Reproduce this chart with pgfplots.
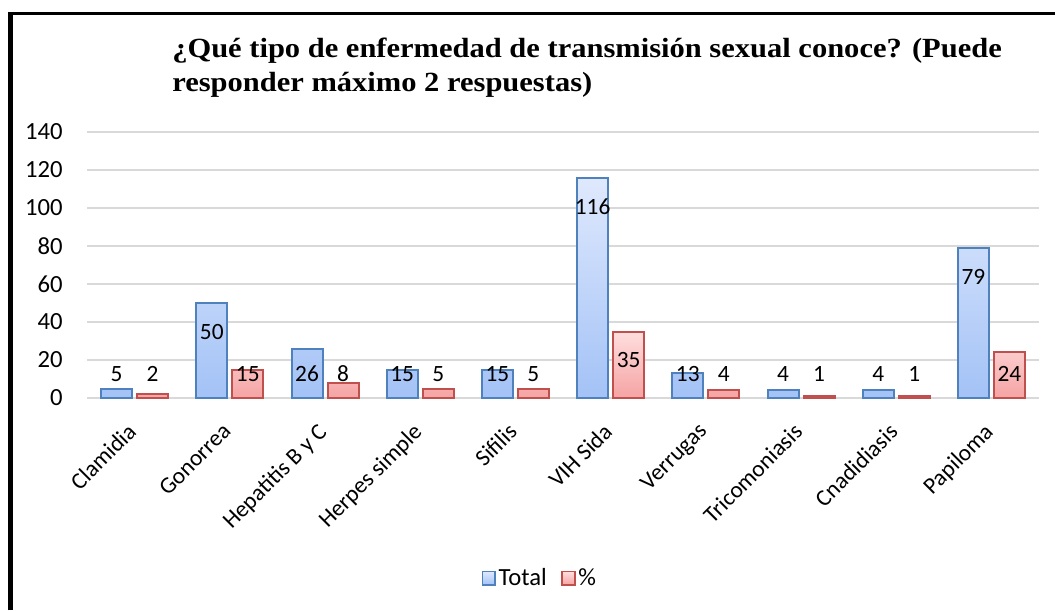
\documentclass[border=0pt]{standalone}
\usepackage{pgfplots}
\pgfplotsset{compat=1.18}
\usepackage{fontspec}
\setmainfont{Carlito}
\newfontfamily\titlefont[FakeStretch=1.1]{Liberation Serif}

\definecolor{blueedge}{HTML}{4F81BD}
\definecolor{bluetop}{HTML}{DFE9FD}
\definecolor{bluebot}{HTML}{A3C2F6}
\definecolor{rededge}{HTML}{C0504D}
\definecolor{redtop}{HTML}{FFDEDE}
\definecolor{redbot}{HTML}{F5A3A3}
\definecolor{gridgray}{HTML}{D9D9D9}

\begin{document}
\begin{tikzpicture}
\useasboundingbox (0,0) rectangle (791.25pt,457.5pt);
% outer frame (left and top edges visible)
\draw[line width=3.75pt] (7.875pt,0) -- (7.875pt,448.5pt);
\draw[line width=2.25pt] (6pt,447.375pt) -- (791.25pt,447.375pt);

\node[anchor=base west, inner sep=0pt, font=\titlefont\bfseries\fontsize{20.8pt}{24pt}\selectfont]
  at (129pt,414pt) {¿Qué tipo de enfermedad de transmisión sexual conoce? (Puede};
\node[anchor=base west, inner sep=0pt, font=\titlefont\bfseries\fontsize{20.8pt}{24pt}\selectfont]
  at (129pt,388.5pt) {responder máximo 2 respuestas)};

\begin{axis}[
    at={(65.25pt,159pt)}, anchor=south west,
    scale only axis,
    width=714pt, height=199.5pt,
    ymin=0, ymax=140, ytick={0,20,...,140},
    xmin=-0.5, xmax=9.5, xtick={0,...,9},
    xticklabels={Clamidia,Gonorrea,Hepatitis B y C,Herpes simple,Sifilis,VIH Sida,Verrugas,Tricomoniasis,Cnadidiasis,Papiloma},
    ybar, bar width=23.25pt,
    axis line style={draw=none},
    major tick length=0pt,
    ymajorgrids, grid style={gridgray, line width=0.9pt},
    yticklabel style={font=\fontsize{18.5pt}{21pt}\selectfont, anchor=east, inner sep=0pt, xshift=-18pt},
    /pgf/number format/assume math mode=true,
    xticklabel style={font=\fontsize{17.5pt}{20pt}\selectfont, rotate=45, anchor=north east,
        inner sep=0pt, xshift=-17pt, yshift=-8pt},
    clip=false,
    visualization depends on=rawy\as\rawy,
    nodes near coords,
    nodes near coords style={font=\fontsize{17.5pt}{20pt}\selectfont, text=black, anchor=center,
        yshift={max(-21.75,18-1.425*\rawy)}},
    legend style={at={(0.476,-0.677)}, anchor=center, draw=none, legend columns=-1,
        font=\fontsize{18.5pt}{21pt}\selectfont,
        /tikz/every even column/.append style={column sep=9pt}},
    legend image code/.code={\draw[#1, line width=1.2pt] (0pt,-5pt) rectangle (9.5pt,5pt);},
]
\addplot[bar shift=-13.5pt, draw=blueedge, line width=1.5pt, top color=bluetop, bottom color=bluebot]
coordinates {(0,5) (1,50) (2,26) (3,15) (4,15) (5,116) (6,13) (7,4) (8,4) (9,79)};
\addplot[bar shift=13.5pt, draw=rededge, line width=1.5pt, top color=redtop, bottom color=redbot]
coordinates {(0,2) (1,15) (2,8) (3,5) (4,5) (5,35) (6,4) (7,1) (8,1) (9,24)};
\legend{Total,\%}
\end{axis}
\end{tikzpicture}
\end{document}
